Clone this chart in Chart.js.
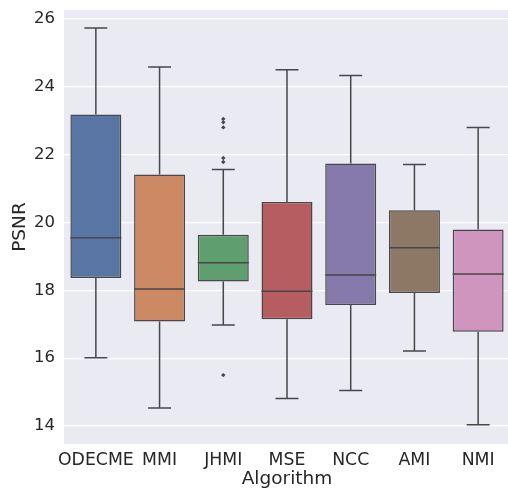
<!DOCTYPE html>
<html>
<head>
<meta charset="utf-8">
<script src="https://cdn.jsdelivr.net/npm/chart.js@4"></script>
<style>
  html, body { margin: 0; padding: 0; background: #ffffff; overflow: hidden; }
  #wrap { width: 508px; height: 491px; position: relative; overflow: hidden; }
</style>
</head>
<body>
<div id="wrap"><canvas id="c" width="514" height="491"></canvas></div>
<script>
// ---- data ----
const categories = ['ODECME', 'MMI', 'JHMI', 'MSE', 'NCC', 'AMI', 'NMI'];
const whiskerLow  = [16.01, 14.53, 16.98, 14.81, 15.05, 16.21, 14.04];
const q1          = [18.36, 17.08, 18.26, 17.15, 17.57, 17.92, 16.78];
const medians     = [19.55, 18.04, 18.81, 17.97, 18.45, 19.25, 18.48];
const q3          = [23.18, 21.41, 19.64, 20.60, 21.74, 20.36, 19.79];
const whiskerHigh = [25.73, 24.58, 21.56, 24.50, 24.33, 21.71, 22.80];
const outlierCats   = ['JHMI', 'JHMI', 'JHMI', 'JHMI', 'JHMI', 'JHMI'];
const outlierValues = [23.05, 22.95, 22.80, 21.90, 21.78, 15.50];
const yTicks = [14, 16, 18, 20, 22, 24, 26];
const boxColors = ['#5875a4', '#cc8963', '#5f9e6e', '#b55d60', '#857aab', '#8d7866', '#d095bf'];

const LINE = '#474747';
const FONT = "'DejaVu Sans', sans-serif";

const boxData = categories.map((c, i) => [q1[i], q3[i]]);
const outlierData = outlierCats.map((c, i) => ({ x: c, y: outlierValues[i] }));

const whiskerPlugin = {
  id: 'whiskers',
  afterDatasetsDraw(chart) {
    const ctx = chart.ctx;
    const xs = chart.scales.x, ys = chart.scales.y;
    const meta = chart.getDatasetMeta(0);
    ctx.save();
    ctx.strokeStyle = LINE;
    ctx.lineWidth = 1.5;
    categories.forEach((c, i) => {
      const bar = meta.data[i];
      const cx = xs.getPixelForValue(i);
      const half = bar.width / 2;
      const capHalf = half * 0.45;
      const yLo = ys.getPixelForValue(whiskerLow[i]);
      const yQ1 = ys.getPixelForValue(q1[i]);
      const yQ3 = ys.getPixelForValue(q3[i]);
      const yHi = ys.getPixelForValue(whiskerHigh[i]);
      const yMed = ys.getPixelForValue(medians[i]);
      ctx.beginPath();
      ctx.moveTo(cx, yQ1); ctx.lineTo(cx, yLo);
      ctx.moveTo(cx - capHalf, yLo); ctx.lineTo(cx + capHalf, yLo);
      ctx.moveTo(cx, yQ3); ctx.lineTo(cx, yHi);
      ctx.moveTo(cx - capHalf, yHi); ctx.lineTo(cx + capHalf, yHi);
      ctx.moveTo(cx - half, yMed); ctx.lineTo(cx + half, yMed);
      ctx.stroke();
    });
    ctx.restore();
  }
};

const bgPlugin = {
  id: 'plotbg',
  beforeDraw(chart) {
    const { ctx, chartArea: a } = chart;
    ctx.save();
    ctx.fillStyle = '#eaeaf2';
    ctx.fillRect(a.left, a.top, a.right - a.left, a.bottom - a.top);
    ctx.restore();
  }
};

new Chart(document.getElementById('c'), {
  type: 'bar',
  data: {
    labels: categories,
    datasets: [
      {
        type: 'bar',
        data: boxData,
        backgroundColor: boxColors,
        borderColor: LINE,
        borderWidth: 1.5,
        borderSkipped: false,
        barPercentage: 0.8,
        categoryPercentage: 1.0,
        order: 2
      },
      {
        type: 'line',
        data: outlierData,
        showLine: false,
        pointStyle: 'rectRot',
        pointRadius: 2.2,
        pointBackgroundColor: LINE,
        pointBorderColor: LINE,
        pointBorderWidth: 0,
        order: 1
      }
    ]
  },
  options: {
    responsive: false,
    animation: false,
    layout: { padding: { top: 10, right: 0, left: 0, bottom: 0 } },
    plugins: { legend: { display: false }, tooltip: { enabled: false } },
    scales: {
      x: {
        type: 'category',
        offset: true,
        grid: { display: false, drawTicks: false },
        border: { display: false },
        ticks: { color: '#262626', font: { family: FONT, size: 17.3 }, padding: 6, maxRotation: 0, autoSkip: false },
        title: { display: true, text: 'Algorithm', color: '#262626', font: { family: FONT, size: 18.5 }, padding: { top: 0, bottom: 1 } },
        afterFit(s) { s.height = 47; s.paddingRight = 0; s.paddingLeft = 0; }
      },
      y: {
        min: 13.47,
        max: 26.26,
        grid: { color: '#ffffff', lineWidth: 1.2, drawTicks: false },
        border: { display: false },
        afterBuildTicks(s) { s.ticks = yTicks.map(v => ({ value: v })); },
        ticks: { color: '#262626', font: { family: FONT, size: 16.5 }, padding: 9 },
        title: { display: true, text: 'PSNR', color: '#262626', font: { family: FONT, size: 18.5 }, padding: { top: 9, bottom: 0 } },
        afterFit(s) { s.width = 64; s.paddingTop = 0; s.paddingBottom = 0; }
      }
    }
  },
  plugins: [bgPlugin, whiskerPlugin]
});
</script>
</body>
</html>
